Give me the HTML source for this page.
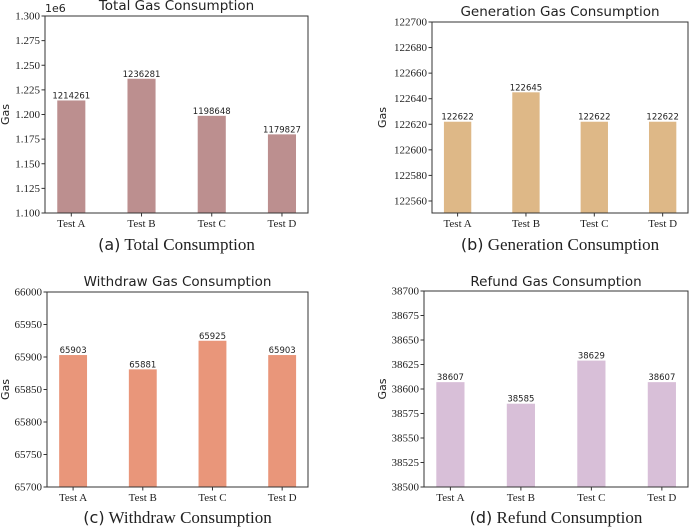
<!DOCTYPE html>
<html><head><meta charset="utf-8"><style>
body{margin:0;background:#fff;width:690px;height:527px;overflow:hidden}
svg text{fill:#222}
.tick{font-family:"Liberation Serif",serif;font-size:11px}
.ttl{font-family:"DejaVu Sans",sans-serif;font-size:13.5px}
.lab{font-family:"DejaVu Sans",sans-serif;font-size:8.5px}
.cap{font-family:"Liberation Serif",serif;font-size:17px}
.cap2{font-family:"DejaVu Sans",sans-serif;font-size:16px}
</style></head><body>
<svg id="chart" width="690" height="527" xmlns="http://www.w3.org/2000/svg"></svg>
<script>
const categories = ["Test A","Test B","Test C","Test D"];
const totalValues = [1214261,1236281,1198648,1179827];
const generationValues = [122622,122645,122622,122622];
const withdrawValues = [65903,65881,65925,65903];
const refundValues = [38607,38585,38629,38607];
const totalTicks = [1.100,1.125,1.150,1.175,1.200,1.225,1.250,1.275,1.300];
const generationTicks = [122560,122580,122600,122620,122640,122660,122680,122700];
const withdrawTicks = [65700,65750,65800,65850,65900,65950,66000];
const refundTicks = [38500,38525,38550,38575,38600,38625,38650,38675,38700];

const NS="http://www.w3.org/2000/svg";
const svg=document.getElementById('chart');
function mk(tag,attrs,parent,text){const e=document.createElementNS(NS,tag);for(const k in attrs)e.setAttribute(k,attrs[k]);if(text!==undefined)e.textContent=text;(parent||svg).appendChild(e);return e;}

const panels=[
 {id:'total',title:'Total Gas Consumption',cap:'(a)',capT:' Total Consumption',vals:totalValues,ticks:totalTicks,tickScale:1e6,tickFmt:v=>v.toFixed(3),min:1.1e6,max:1.3e6,x0:45,x1:308,y0:16,y1:213,color:'#bc8f8f',titleY:10,capY:250,gasX:9,exp:true},
 {id:'generation',title:'Generation Gas Consumption',cap:'(b)',capT:' Generation Consumption',vals:generationValues,ticks:generationTicks,tickScale:1,tickFmt:v=>String(v),min:122550.6,max:122700,x0:432,x1:688,y0:22,y1:213,color:'#deb887',titleY:16,capY:250,gasX:386},
 {id:'withdraw',title:'Withdraw Gas Consumption',cap:'(c)',capT:' Withdraw Consumption',vals:withdrawValues,ticks:withdrawTicks,tickScale:1,tickFmt:v=>String(v),min:65700,max:66000,x0:47,x1:308,y0:292,y1:487,color:'#e9967a',titleY:286,capY:523,gasX:9},
 {id:'refund',title:'Refund Gas Consumption',cap:'(d)',capT:' Refund Consumption',vals:refundValues,ticks:refundTicks,tickScale:1,tickFmt:v=>String(v),min:38500,max:38700,x0:424,x1:688,y0:291,y1:487,color:'#d8bfd8',titleY:286,capY:523,gasX:386}
];

panels.forEach(p=>{
 const g=mk('g',{});
 
 
 const w=p.x1-p.x0;
 const sx=i=>p.x0+w*0.1+i*w*0.267;
 const sy=v=>p.y1-(v-p.min)/(p.max-p.min)*(p.y1-p.y0);
 const bw=w*0.267*0.4;
 p.vals.forEach((v,i)=>{
  const r=mk('rect',{x:sx(i)-bw/2,y:sy(v),width:bw,height:p.y1-sy(v),fill:p.color},g);
  
  
  const t=mk('text',{x:sx(i),y:sy(v)-2,'text-anchor':'middle',class:'lab'},g,String(v));
  
  
 });
 const ax=mk('rect',{x:p.x0,y:p.y0,width:w,height:p.y1-p.y0,fill:'none',stroke:'#333','stroke-width':1},g);
 
 
 p.ticks.forEach(t=>{
  const y=sy(t*p.tickScale);
  mk('line',{x1:p.x0-3.5,x2:p.x0,y1:y,y2:y,stroke:'#333'},g);
  const tl=mk('text',{x:p.x0-5,y:y+3.5,'text-anchor':'end',class:'tick'},g,p.tickFmt(t));
  
  
 });
 categories.forEach((c,i)=>{
  mk('line',{x1:sx(i),x2:sx(i),y1:p.y1,y2:p.y1+3.5,stroke:'#333'},g);
  const tl=mk('text',{x:sx(i),y:p.y1+14,'text-anchor':'middle',class:'tick'},g,c);
  
  
 });
 const tt=mk('text',{x:(p.x0+p.x1)/2,y:p.titleY,'text-anchor':'middle',class:'ttl'},g,p.title);
 
 
 const gy=(p.y0+p.y1)/2;
 const ga=mk('text',{x:p.gasX,y:gy,'text-anchor':'middle',class:'lab',style:'font-size:11px',transform:'rotate(-90 '+p.gasX+' '+gy+')'},g,'Gas');
 
 
 if(p.exp){const e=mk('text',{x:p.x0,y:p.y0-4,class:'lab',style:'font-size:11px'},g,'1e6');
  
  }
 const cap=mk('text',{x:(p.x0+p.x1)/2,y:p.capY,'text-anchor':'middle',class:'cap'},g);
 
 
 mk('tspan',{class:'cap2'},cap,p.cap);
 mk('tspan',{},cap,p.capT);
});
</script>
</body></html>
